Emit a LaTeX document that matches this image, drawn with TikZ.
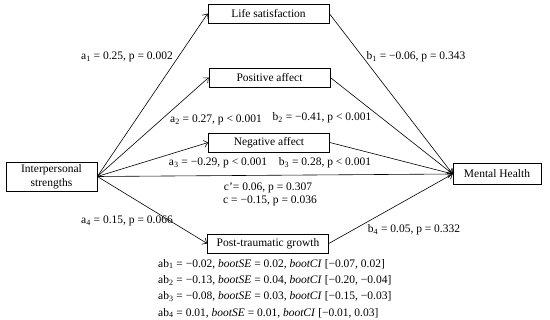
\documentclass[tikz,border=0pt]{standalone}
\usepackage{fontspec}
\setmainfont{Liberation Serif}
\usetikzlibrary{arrows.meta}
\begin{document}
\begin{tikzpicture}[x=1pt,y=-1pt,
  font=\fontsize{11.5}{14}\selectfont,
  box/.style={draw, line width=0.6pt, inner sep=0pt, minimum height=19pt, minimum width=121pt},
  conn/.style={line width=0.6pt, -{Straight Barb[length=4pt,width=7pt]}},
  lbl/.style={inner sep=0pt}]
\useasboundingbox (0,0) rectangle (550,320);
% boxes
\node[box] (ls) at (268.5,13.5) {Life satisfaction};
\node[box] (pa) at (269.5,77.5) {Positive affect};
\node[box] (na) at (269,142.5) {Negative affect};
\node[box] (pg) at (268,243.5) {Post-traumatic growth};
\node[box, minimum width=91pt, minimum height=29pt, align=center] (is) at (51.5,176.5) {Interpersonal\\strengths};
\node[box, minimum width=88pt, minimum height=21pt] (mh) at (497,174) {Mental Health};
% connectors
\draw[conn] (is.east) -- (ls.west);
\draw[conn] (is.east) -- (pa.west);
\draw[conn] (is.east) -- (na.west);
\draw[conn] (is.east) -- (pg.west);
\draw[conn] (is.east) -- (mh.west);
\draw[conn] (ls.east) -- (mh.west);
\draw[conn] (pa.east) -- (mh.west);
\draw[conn] (na.east) -- (mh.west);
\draw[conn] (pg.east) -- (mh.west);
% labels
\node[lbl] (la1) at (127,57) {a\textsubscript{1} = 0.25, p = 0.002};
\node[lbl] (lb1) at (416,57) {b\textsubscript{1} = −0.06, p = 0.343};
\node[lbl] (la2) at (216,120) {a\textsubscript{2} = 0.27, p < 0.001};
\node[lbl] (lb2) at (322,118) {b\textsubscript{2} = −0.41, p < 0.001};
\node[lbl] (la3) at (218,163) {a\textsubscript{3} = −0.29, p < 0.001};
\node[lbl] (lb3) at (325,163) {b\textsubscript{3} = 0.28, p < 0.001};
\node[lbl] (lcp) at (268,188) {c’= 0.06, p = 0.307};
\node[lbl] (lc) at (270,201) {c = −0.15, p = 0.036};
\node[lbl] (la4) at (127,221) {a\textsubscript{4} = 0.15, p = 0.066};
\node[lbl] (lb4) at (414,230) {b\textsubscript{4} = 0.05, p = 0.332};
\node[lbl, anchor=west, align=left, font=\fontsize{11.5}{16.3}\selectfont] (ab) at (158,288.5)
  {ab\textsubscript{1} = −0.02, \textit{bootSE} = 0.02, \textit{bootCI} [−0.07, 0.02]\\
   ab\textsubscript{2} = −0.13, \textit{bootSE} = 0.04, \textit{bootCI} [−0.20, −0.04]\\
   ab\textsubscript{3} = −0.08, \textit{bootSE} = 0.03, \textit{bootCI} [−0.15, −0.03]\\
   ab\textsubscript{4} = 0.01, \textit{bootSE} = 0.01, \textit{bootCI} [−0.01, 0.03]};
\end{tikzpicture}
\end{document}
